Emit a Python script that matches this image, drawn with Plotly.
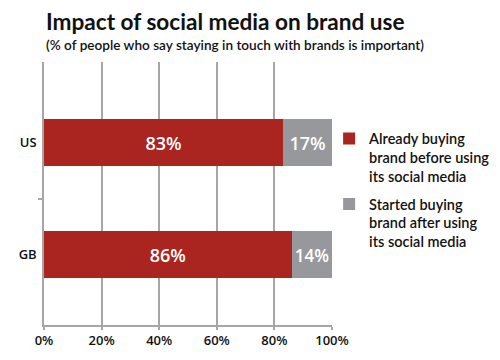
import plotly.graph_objects as go

categories = ["US", "GB"]
already_buying = [83, 86]
started_buying = [17, 14]
x_ticks = [0, 20, 40, 60, 80, 100]
x_tick_labels = ["0%", "20%", "40%", "60%", "80%", "100%"]
series_names = ["Already buying<br>brand before using<br>its social media",
                "Started buying<br>brand after using<br>its social media"]

ypos = [len(categories) - 1 - i for i in range(len(categories))]

FONT = "Open Sans"
TFONT = "Lato"
RED = "#aa2420"
GRAY = "#97989b"

fig = go.Figure()
fig.add_trace(go.Bar(
    y=ypos, x=already_buying, orientation="h", name=series_names[0],
    marker=dict(color=RED, line=dict(width=0)), width=0.42,
    text=[f"{v}%" for v in already_buying], textposition="inside",
    insidetextanchor="middle", textangle=0, constraintext="none",
    textfont=dict(family=FONT, size=18, color="white", weight=600),
    legendgroup="a", hoverinfo="skip",
))
fig.add_trace(go.Bar(
    y=ypos, x=started_buying, orientation="h", name=series_names[1],
    marker=dict(color=GRAY, line=dict(width=0)), width=0.42,
    text=[f"{v}%" for v in started_buying], textposition="inside",
    insidetextanchor="middle", textangle=0,
    textfont=dict(family=FONT, size=18, color="white", weight=600),
    legendgroup="b", hoverinfo="skip",
))

fig.update_layout(
    width=500, height=360,
    barmode="stack",
    paper_bgcolor="white", plot_bgcolor="white",
    margin=dict(l=44, r=168, t=62, b=35, autoexpand=False),
    font=dict(family=FONT, color="#111111"),
    showlegend=True,
    legend=dict(
        x=0.99, xanchor="left", y=0.77, yanchor="top",
        traceorder="grouped", tracegroupgap=6, valign="top",
        font=dict(family=TFONT, size=14.5, color="#111111", weight=600),
        itemwidth=30, bgcolor="rgba(0,0,0,0)",
    ),
    annotations=[
        dict(text="Impact of social media on brand use", xref="paper", yref="paper",
             x=0, y=1, yshift=25, xanchor="left", yanchor="bottom", showarrow=False,
             font=dict(family=TFONT, size=22.6, color="#111111", weight=700)),
        dict(text="(% of people who say staying in touch with brands is important)",
             xref="paper", yref="paper", x=0, y=1, yshift=7, xanchor="left",
             yanchor="bottom", showarrow=False,
             font=dict(family=TFONT, size=13.6, color="#111111", weight=600)),
    ],
)

fig.update_xaxes(
    range=[0, 100], tickvals=x_ticks, ticktext=x_tick_labels,
    showgrid=True, gridcolor="#a6a6a6", gridwidth=1.5,
    showline=True, linecolor="#a6a6a6", linewidth=1.5,
    ticks="outside", ticklen=3, tickcolor="#a6a6a6", tickwidth=1.5,
    tickfont=dict(family=FONT, size=13, color="#111111", weight=600),
    zeroline=False, fixedrange=True, automargin=False,
)
fig.update_yaxes(
    range=[-0.625, 1.72], tickvals=ypos, ticktext=categories,
    showgrid=False, zeroline=False,
    showline=True, linecolor="#a6a6a6", linewidth=1.5,
    ticks="", ticklabelstandoff=3,
    minor=dict(tickvals=[0.5], ticks="outside", ticklen=4, tickcolor="#a6a6a6", tickwidth=1.5, showgrid=False),
    tickfont=dict(family=FONT, size=13, color="#111111", weight=600),
    fixedrange=True, automargin=False,
)

fig.write_html("out.html", config={"displayModeBar": False},
               post_script="document.body.style.margin='0';document.body.style.overflow='hidden';")
